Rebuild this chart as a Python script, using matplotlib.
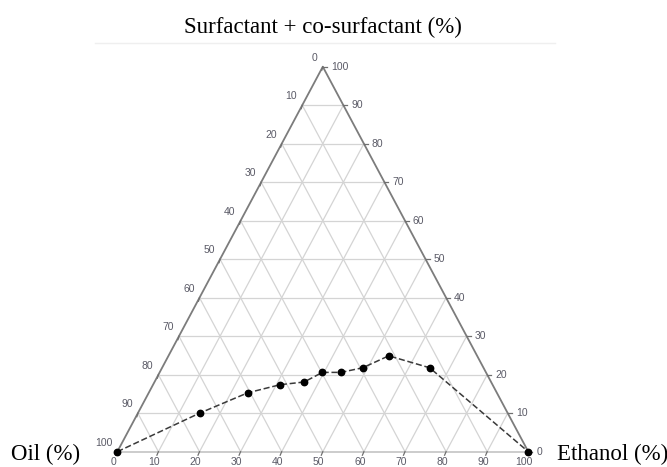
import matplotlib.pyplot as plt

# phase boundary points (percent)
oil = [100, 75, 60.6, 51.7, 45.5, 39.8, 35.3, 29.4, 21.5, 13.1, 0]
surfactant = [0, 10, 15.3, 17.4, 18.1, 20.6, 20.6, 21.8, 24.9, 21.8, 0]
ethanol = [0, 15, 24.1, 30.9, 36.4, 39.6, 44.1, 48.8, 53.6, 65.1, 100]

ticks = [0, 10, 20, 30, 40, 50, 60, 70, 80, 90, 100]

W, H = 667, 467
# triangle corners in pixels: left (117, 452), right (528, 452), apex y 67
TL, TR, TB, TT = 117.3, 528.3, 451.7, 66.7
PX = 100 / (TR - TL)   # data units per pixel, x
PY = 100 / (TB - TT)   # data units per pixel, y


def tern(e, s):
    # ethanol / surfactant -> cartesian (oil at left corner)
    return e + s / 2.0, s


fig = plt.figure(figsize=(W / 100, H / 100), dpi=100)
ax = fig.add_axes([TL / W, (H - TB) / H, (TR - TL) / W, (TB - TT) / H])
ax.set_xlim(0, 100)
ax.set_ylim(0, 100)
ax.axis('off')

grid_kw = dict(color='#d4d4d4', lw=0.9, zorder=1, clip_on=False)
for v in ticks[1:-1]:
    # constant surfactant
    x0, y0 = tern(0, v)
    x1, y1 = tern(100 - v, v)
    ax.plot([x0, x1], [y0, y1], **grid_kw)
    # constant ethanol
    x0, y0 = tern(v, 0)
    x1, y1 = tern(v, 100 - v)
    ax.plot([x0, x1], [y0, y1], **grid_kw)
    # constant oil
    x0, y0 = tern(100 - v, 0)
    x1, y1 = tern(0, 100 - v)
    ax.plot([x0, x1], [y0, y1], **grid_kw)

# triangle edges
ax.plot([0, 100], [0, 0], color='#c4c4c4', lw=1.2, zorder=2, clip_on=False)
ax.plot([0, 50, 100], [0, 100, 0], color='#7c7c7c', lw=1.3, zorder=2,
        clip_on=False)

tick_kw = dict(color='#707070', lw=0.9, zorder=2, clip_on=False)
lab_kw = dict(fontsize=7.5, color='#5a5a66', family='Liberation Sans',
              textcoords='offset points', annotation_clip=False)
pt = 0.72  # points per pixel

for v in ticks:
    # left axis: oil, 0 at apex
    x, y = tern(0, 100 - v)
    ax.plot([x, x - 1.0 * PX], [y, y - 3.5 * PY], **tick_kw)
    ax.annotate(str(v), (x, y), xytext=(-5 * pt, 9 * pt), ha='right',
                va='center', **lab_kw)
    # right axis: surfactant, 0 at bottom
    x, y = tern(100 - v, v)
    ax.plot([x, x + 4 * PX], [y, y], **tick_kw)
    ax.annotate(str(v), (x, y), xytext=(8 * pt, 0), ha='left',
                va='center', **lab_kw)
    # bottom axis: ethanol
    x, y = tern(v, 0)
    ax.plot([x, x - 1.5 * PX], [y, y - 3.5 * PY], **tick_kw)
    ax.annotate(str(v), (x, y), xytext=(-4 * pt, -5.5 * pt), ha='center',
                va='top', **lab_kw)

# boundary curve
bx = [tern(e, s)[0] for e, s in zip(ethanol, surfactant)]
by = [tern(e, s)[1] for e, s in zip(ethanol, surfactant)]
ax.plot(bx, by, color='#3a3a3a', lw=1.1, ls=(0, (4, 1.8)), zorder=3,
        clip_on=False)
ax.plot(bx, by, 'o', color='black', ms=4.6, zorder=4, clip_on=False)

# faint frame line above the plot
fig.add_artist(plt.Line2D([95 / W, 555 / W], [1 - 43 / H, 1 - 43 / H],
                          color='#efefef', lw=1.0))

serif = dict(family='Liberation Serif', fontsize=16.5, color='black')
ax.text(50, (TB - 33) * PY, 'Surfactant + co-surfactant (%)', ha='center',
        va='baseline', **serif)
ax.text((80 - TL) * PX, (TB - 460) * PY, 'Oil (%)', ha='right',
        va='baseline', **serif)
ax.text((557 - TL) * PX, (TB - 460) * PY, 'Ethanol (%)', ha='left',
        va='baseline', **serif)

fig.savefig('out.png', dpi=100)
